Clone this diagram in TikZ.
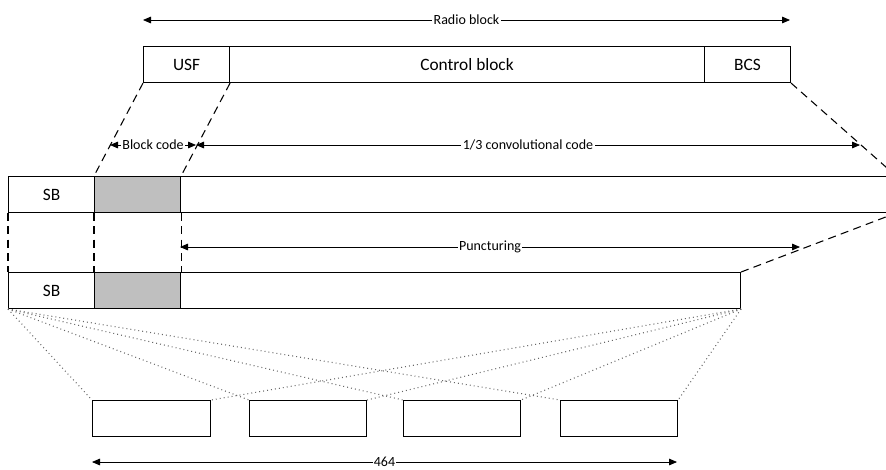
\documentclass[tikz,border=0pt]{standalone}
\usepackage{fontspec}
\setmainfont{Carlito}
\usetikzlibrary{arrows.meta}
\tikzset{
  px/.style={x=0.75pt,y=-0.75pt},
  blk/.style={draw, line width=0.8pt, anchor=north west, inner sep=0pt,
    minimum height=27pt, font=\fontsize{13}{15}\selectfont},
  grayblk/.style={blk, fill=black!25},
  dashln/.style={line width=0.8pt, dash pattern=on 6pt off 4pt},
  dotln/.style={line width=0.8pt, black!60, dash pattern=on 0.7pt off 2.3pt},
  dimarrow/.style={line width=0.6pt, {Triangle[length=6pt,width=5pt]}-{Triangle[length=6pt,width=5pt]}},
  dimlabel/.style={fill=white, inner sep=1pt, font=\fontsize{10.5}{12}\selectfont}
}
\begin{document}
\begin{tikzpicture}[px]
\useasboundingbox (0,0) rectangle (886,469);
\clip (0,0) rectangle (886,469);
% top row
\node[blk, minimum width=64.5pt] (usf) at (143,46) {USF};
\node[blk, minimum width=356.25pt] (ctl) at (229,46) {Control block};
\node[blk, minimum width=64.5pt] (bcs) at (704,46) {BCS};
% row 2
\node[blk, minimum width=64.5pt] (sbA) at (8,176) {SB};
\node[grayblk, minimum width=64.5pt] (gA) at (94,176) {};
\node[blk, minimum width=536.25pt] (rA) at (180,176) {};
% row 3
\node[blk, minimum width=64.5pt] (sbB) at (8,272) {SB};
\node[grayblk, minimum width=64.5pt] (gB) at (94,272) {};
\node[blk, minimum width=420pt] (rB) at (180,272) {};
% bottom boxes
\node[blk, minimum width=88.5pt] (b1) at (92,400) {};
\node[blk, minimum width=87.75pt] (b2) at (249,400) {};
\node[blk, minimum width=87.75pt] (b3) at (403,400) {};
\node[blk, minimum width=87.75pt] (b4) at (560,400) {};
% dashed mapping lines
\draw[dashln] (usf.south west) -- (gA.north west);
\draw[dashln] (usf.south east) -- (gA.north east);
\draw[dashln] (bcs.south east) -- (rA.north east);
\draw[dashln] (rB.north east) -- (rA.south east);
\draw[dashln] (sbA.south west) -- (sbB.north west);
\draw[dashln] (gA.south west) -- (gB.north west);
\draw[dashln] (gA.south east) -- (gB.north east);
% dotted interleaving lines
\foreach \b in {b1,b2,b3,b4}{
  \draw[dotln] (sbB.south west) -- (\b.north west);
  \draw[dotln] (rB.south east) -- (\b.north east);
}
% dimension arrows
\coordinate (rbL) at (143,20); \coordinate (rbR) at (790,20);
\draw[dimarrow] (rbL) -- node[dimlabel]{Radio block} (rbR);
\coordinate (bcL) at (110,145); \coordinate (bcR) at (196,145);
\draw[dimarrow] (bcL) -- node[dimlabel]{Block code} (bcR);
\coordinate (ccR) at (860,145);
\draw[dimarrow] (bcR) -- node[dimlabel]{1/3 convolutional code} (ccR);
\coordinate (puL) at (180,247); \coordinate (puR) at (800,247);
\draw[dimarrow] (puL) -- node[dimlabel]{Puncturing} (puR);
\coordinate (nL) at (92,462); \coordinate (nR) at (677,462);
\draw[dimarrow] (nL) -- node[dimlabel]{464} (nR);
\end{tikzpicture}
\end{document}
